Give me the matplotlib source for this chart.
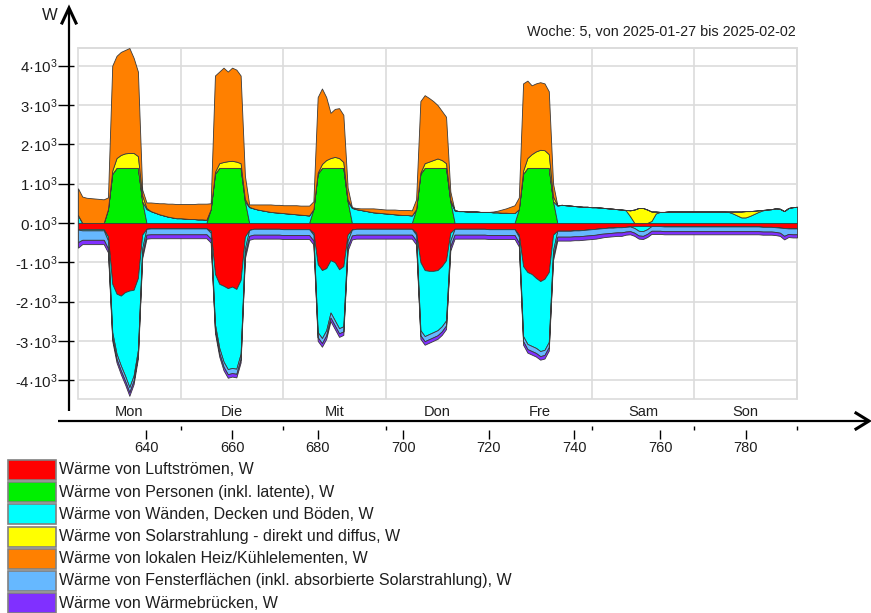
import matplotlib
matplotlib.use("Agg")
import matplotlib.pyplot as plt
from matplotlib.patches import Rectangle
from matplotlib.ticker import FixedLocator, FuncFormatter
import matplotlib.transforms as mtransforms
import numpy as np

plt.rcParams['font.family'] = ['Liberation Sans', 'DejaVu Sans']
plt.rcParams['mathtext.fontset'] = 'custom'
plt.rcParams['mathtext.rm'] = 'Liberation Sans'
plt.rcParams['mathtext.it'] = 'Liberation Sans'
plt.rcParams['mathtext.default'] = 'rm'

# hour of the year, Monday 00:00 up to the next Monday 00:00
hours = np.arange(624, 793)

day_names = ["Mon", "Die", "Mit", "Don", "Fre", "Sam", "Son"]
title = "Woche: 5, von 2025-01-27 bis 2025-02-02"

# hourly heat flows in W, one row per day (Sunday also holds the closing midnight value)
luftstroeme = [
    -170, -160, -160, -160, -160, -160, -160, -350, -1550, -1800, -1850, -1760, -1720, -1700, -1400, -300, -150, -140, -140, -140, -140, -140, -140, -140,
    -140, -140, -140, -140, -140, -140, -140, -200, -1300, -1550, -1600, -1660, -1620, -1680, -1450, -350, -180, -150, -150, -150, -150, -150, -150, -150,
    -160, -160, -160, -160, -160, -160, -160, -250, -1050, -1200, -1150, -950, -1000, -1180, -1100, -300, -170, -150, -150, -150, -150, -150, -150, -150,
    -150, -150, -150, -150, -150, -150, -150, -250, -1000, -1200, -1220, -1220, -1200, -1100, -950, -250, -150, -150, -150, -150, -150, -150, -150, -150,
    -160, -160, -160, -160, -160, -160, -160, -300, -1100, -1250, -1300, -1400, -1480, -1420, -1250, -300, -200, -200, -200, -200, -190, -190, -180, -170,
    -160, -150, -140, -130, -120, -120, -110, -110, -100, -90, -80, -80, -80, -80, -80, -80, -80, -90, -90, -90, -90, -90, -90, -90,
    -90, -90, -90, -90, -90, -90, -90, -90, -90, -90, -90, -90, -90, -90, -90, -90, -100, -100, -100, -110, -120, -130, -140, -140, -140,
]
personen = [
    0, 0, 0, 0, 0, 0, 0, 350, 1250, 1400, 1400, 1400, 1400, 1400, 1400, 550, 0, 0, 0, 0, 0, 0, 0, 0,
    0, 0, 0, 0, 0, 0, 0, 350, 1250, 1400, 1400, 1400, 1400, 1400, 1400, 550, 0, 0, 0, 0, 0, 0, 0, 0,
    0, 0, 0, 0, 0, 0, 0, 350, 1250, 1400, 1400, 1400, 1400, 1400, 1400, 550, 0, 0, 0, 0, 0, 0, 0, 0,
    0, 0, 0, 0, 0, 0, 0, 350, 1250, 1400, 1400, 1400, 1400, 1400, 1400, 550, 0, 0, 0, 0, 0, 0, 0, 0,
    0, 0, 0, 0, 0, 0, 0, 350, 1250, 1400, 1400, 1400, 1400, 1400, 1400, 550, 0, 0, 0, 0, 0, 0, 0, 0,
    0, 0, 0, 0, 0, 0, 0, 0, 0, 0, 0, 0, 0, 0, 0, 0, 0, 0, 0, 0, 0, 0, 0, 0,
    0, 0, 0, 0, 0, 0, 0, 0, 0, 0, 0, 0, 0, 0, 0, 0, 0, 0, 0, 0, 0, 0, 0, 0, 0,
]
waende = [
    200, -30, -30, -30, -30, -30, -30, -100, -1230, -1530, -1780, -2130, -2460, -2180, -1830, -350, 350, 300, 260, 220, 190, 160, 140, 120,
    120, 110, 100, 100, 90, 90, 80, -50, -1280, -1630, -1930, -2060, -2070, -2030, -1880, -300, 400, 370, 340, 320, 300, 280, 270, 260,
    250, 240, 230, 220, 210, 200, 190, -50, -1730, -1730, -1580, -1330, -1480, -1500, -1530, -150, 380, 350, 330, 310, 290, 270, 260, 250,
    240, 230, 220, 210, 200, 200, 190, -50, -1730, -1680, -1610, -1560, -1530, -1530, -1530, -200, 320, 300, 300, 290, 290, 290, 280, 280,
    280, 270, 270, 260, 260, 250, 250, -50, -1780, -1830, -1830, -1780, -1780, -1810, -1780, -400, 440, 460, 450, 440, 430, 420, 410, 410,
    400, 400, 390, 380, 370, 360, 350, 340, 320, 170, -50, -120, -130, -80, 50, 240, 280, 280, 290, 290, 290, 290, 290, 290,
    290, 290, 290, 290, 290, 290, 290, 290, 280, 240, 190, 140, 140, 180, 230, 280, 320, 340, 350, 370, 360, 300, 380, 400, 410,
]
solar = [
    0, 0, 0, 0, 0, 0, 0, 0, 80, 250, 330, 370, 380, 380, 300, 150, 30, 0, 0, 0, 0, 0, 0, 0,
    0, 0, 0, 0, 0, 0, 0, 0, 50, 120, 150, 170, 180, 160, 120, 60, 10, 0, 0, 0, 0, 0, 0, 0,
    0, 0, 0, 0, 0, 0, 0, 0, 30, 100, 200, 250, 280, 250, 150, 50, 10, 0, 0, 0, 0, 0, 0, 0,
    0, 0, 0, 0, 0, 0, 0, 0, 30, 120, 160, 200, 240, 200, 120, 40, 0, 0, 0, 0, 0, 0, 0, 0,
    0, 0, 0, 0, 0, 0, 0, 0, 80, 250, 350, 420, 460, 450, 350, 120, 10, 0, 0, 0, 0, 0, 0, 0,
    0, 0, 0, 0, 0, 0, 0, 0, 10, 150, 340, 380, 380, 340, 240, 50, 0, 0, 0, 0, 0, 0, 0, 0,
    0, 0, 0, 0, 0, 0, 0, 0, 10, 50, 100, 150, 160, 120, 80, 40, 10, 0, 0, 0, 0, 0, 0, 0, 0,
]
heizkuehl = [
    680, 670, 640, 630, 620, 610, 600, 300, 2670, 2600, 2620, 2630, 2670, 2420, 2150, 150, 140, 220, 250, 280, 310, 330, 350, 360,
    360, 370, 380, 380, 400, 400, 410, 150, 2450, 2330, 2400, 2280, 2370, 2340, 2230, 590, 60, 100, 130, 150, 170, 190, 190, 200,
    200, 210, 220, 230, 230, 240, 250, 200, 1920, 1920, 1600, 1150, 1220, 1270, 1200, 300, 10, 30, 40, 60, 80, 100, 100, 100,
    100, 110, 120, 120, 130, 130, 130, 250, 1820, 1730, 1620, 1500, 1360, 1250, 1180, 210, 0, 0, 0, 0, 0, 0, 0, 0,
    0, 20, 40, 80, 110, 160, 200, 300, 2220, 1970, 1750, 1730, 1720, 1700, 1600, 330, 0, 0, 0, 0, 0, 0, 0, 0,
    0, 0, 0, 0, 0, 0, 0, 0, 0, 0, 0, 0, 0, 0, 0, 0, 0, 0, 0, 0, 0, 0, 0, 0,
    0, 0, 0, 0, 0, 0, 0, 0, 0, 0, 0, 0, 0, 0, 0, 0, 0, 0, 0, 0, 0, 0, 0, 0, 0,
]
fenster = [
    -320, -240, -240, -240, -240, -240, -240, -200, -130, -130, -130, -130, -130, -130, -130, -150, -150, -150, -150, -150, -150, -150, -150, -150,
    -150, -150, -150, -150, -150, -150, -150, -150, -130, -130, -130, -130, -130, -130, -130, -150, -150, -150, -150, -150, -150, -150, -150, -150,
    -150, -150, -150, -150, -150, -150, -150, -150, -130, -130, -130, -130, -130, -130, -130, -150, -150, -150, -150, -150, -150, -150, -150, -150,
    -150, -150, -150, -150, -150, -150, -150, -150, -130, -130, -130, -130, -130, -130, -130, -150, -150, -150, -150, -150, -150, -150, -150, -150,
    -150, -150, -150, -150, -150, -150, -150, -150, -130, -130, -130, -130, -130, -130, -130, -150, -150, -150, -150, -150, -150, -150, -150, -150,
    -150, -150, -140, -140, -140, -130, -130, -130, -120, -120, -120, -120, -120, -120, -120, -120, -120, -120, -120, -120, -120, -120, -120, -120,
    -120, -120, -120, -120, -120, -120, -120, -120, -120, -120, -120, -120, -120, -120, -120, -120, -120, -120, -120, -120, -130, -200, -140, -150, -150,
]
waermebruecken = [
    -140, -110, -110, -110, -110, -110, -110, -100, -90, -90, -90, -90, -90, -90, -90, -100, -100, -100, -100, -100, -100, -100, -100, -100,
    -100, -100, -100, -100, -100, -100, -100, -100, -90, -90, -90, -90, -90, -90, -90, -100, -100, -100, -100, -100, -100, -100, -100, -100,
    -100, -100, -100, -100, -100, -100, -100, -100, -90, -90, -90, -90, -90, -90, -90, -100, -100, -100, -100, -100, -100, -100, -100, -100,
    -100, -100, -100, -100, -100, -100, -100, -100, -90, -90, -90, -90, -90, -90, -90, -100, -100, -100, -100, -100, -100, -100, -100, -100,
    -100, -100, -100, -100, -100, -100, -100, -100, -90, -90, -90, -90, -90, -90, -90, -100, -100, -100, -100, -100, -100, -100, -100, -100,
    -100, -100, -100, -90, -90, -90, -90, -90, -80, -80, -80, -80, -80, -80, -80, -80, -80, -80, -80, -80, -80, -80, -80, -80,
    -80, -80, -80, -80, -80, -80, -80, -80, -80, -80, -80, -80, -80, -80, -80, -80, -80, -80, -80, -80, -80, -90, -80, -80, -80,
]

labels = [
    "Wärme von Luftströmen, W",
    "Wärme von Personen (inkl. latente), W",
    "Wärme von Wänden, Decken und Böden, W",
    "Wärme von Solarstrahlung - direkt und diffus, W",
    "Wärme von lokalen Heiz/Kühlelementen, W",
    "Wärme von Fensterflächen (inkl. absorbierte Solarstrahlung), W",
    "Wärme von Wärmebrücken, W",
]
colors = ["#ff0000", "#00f000", "#00ffff", "#ffff00", "#ff8000", "#66b8ff", "#8030ff"]

W, H = 871, 613
text_color = "#1e1e1e"
grid_color = "#dcdcdc"


def px_rect(left, top, right, bottom):
    return [left / W, 1 - bottom / H, (right - left) / W, (bottom - top) / H]


fig = plt.figure(figsize=(W / 100, H / 100), dpi=100)
ax = fig.add_axes(px_rect(78, 48, 797, 399))

# positive and negative parts are stacked separately, in legend order
series = [luftstroeme, personen, waende, solar, heizkuehl, fenster, waermebruecken]
pos_base = np.zeros(len(hours))
neg_base = np.zeros(len(hours))
for vals, color in zip(series, colors):
    vals = np.array(vals, dtype=float)
    pos = np.clip(vals, 0, None)
    neg = np.clip(vals, None, 0)
    if pos.any():
        ax.fill_between(hours, pos_base, pos_base + pos, facecolor=color,
                        edgecolor="#3a3a3a", lw=0.6, zorder=3)
    if neg.any():
        ax.fill_between(hours, neg_base, neg_base + neg, facecolor=color,
                        edgecolor="#3a3a3a", lw=0.6, zorder=3)
    pos_base += pos
    neg_base += neg

ax.set_xlim(624, 792)
ax.set_ylim(-4480, 4450)

ax.set_yticks(np.arange(-4000, 4001, 1000))
ax.yaxis.set_major_formatter(FuncFormatter(lambda v, p: f"{int(round(v / 1000))}·10$^{{3}}$"))
ax.set_xticks(np.arange(640, 781, 20))
ax.xaxis.set_minor_locator(FixedLocator(np.arange(648, 793, 24)))

ax.grid(axis="y", which="major", color=grid_color, lw=1.2, zorder=1)
ax.grid(axis="x", which="minor", color=grid_color, lw=1.2, zorder=1)
ax.set_axisbelow(True)

for side in ["top", "right"]:
    ax.spines[side].set_color(grid_color)
    ax.spines[side].set_linewidth(1.2)
ax.spines["left"].set_position(("outward", 9))
ax.spines["bottom"].set_position(("outward", 22))
ax.spines["left"].set_visible(False)
ax.spines["bottom"].set_visible(False)
ax.add_patch(Rectangle((0, 0), 1, 1, transform=ax.transAxes, fill=False,
                       edgecolor=grid_color, lw=1.2, clip_on=False, zorder=1))

ax.tick_params(axis="y", direction="inout", length=11, width=1, color="black",
               labelsize=10.8, labelcolor=text_color, pad=0)
ax.tick_params(axis="x", which="major", direction="out", length=6.5, width=1,
               color="black", labelsize=10.5, labelcolor=text_color, pad=1.5)
ax.tick_params(axis="x", which="minor", direction="in", length=3, width=1, color="black")

# weekday names in the gap between plot and time axis
day_trans = mtransforms.blended_transform_factory(ax.transData, ax.transAxes)
for i, name in enumerate(day_names):
    ax.text(636 + 24 * i, -13 / 351, name, transform=day_trans, ha="center",
            va="center", fontsize=10.5, color=text_color)

# overlay in pixel coordinates for the arrows and the legend
ov = fig.add_axes([0, 0, 1, 1])
ov.set_xlim(0, W)
ov.set_ylim(H, 0)
ov.axis("off")

ov.plot([69, 69], [411, 9], color="black", lw=1.6, solid_capstyle="butt")
ov.plot([62, 69, 76], [23, 8, 23], color="black", lw=2.2, solid_joinstyle="miter")
ov.plot([58, 868], [421, 421], color="black", lw=1.6, solid_capstyle="butt")
ov.plot([856, 869, 856], [413, 421, 429], color="black", lw=2.2, solid_joinstyle="miter")

ov.text(50, 16, "W", ha="center", va="center", fontsize=12, color=text_color)
ov.text(796, 32, title, ha="right", va="center", fontsize=10.4, color=text_color)

for i, (label, color) in enumerate(zip(labels, colors)):
    top = 460 + 22.2 * i
    ov.add_patch(Rectangle((8, top), 48, 20, facecolor=color, edgecolor="#808080", lw=1.2))
    ov.text(59, top + 10, label, ha="left", va="center", fontsize=11.5, color=text_color)

fig.savefig("out.png", dpi=100)
